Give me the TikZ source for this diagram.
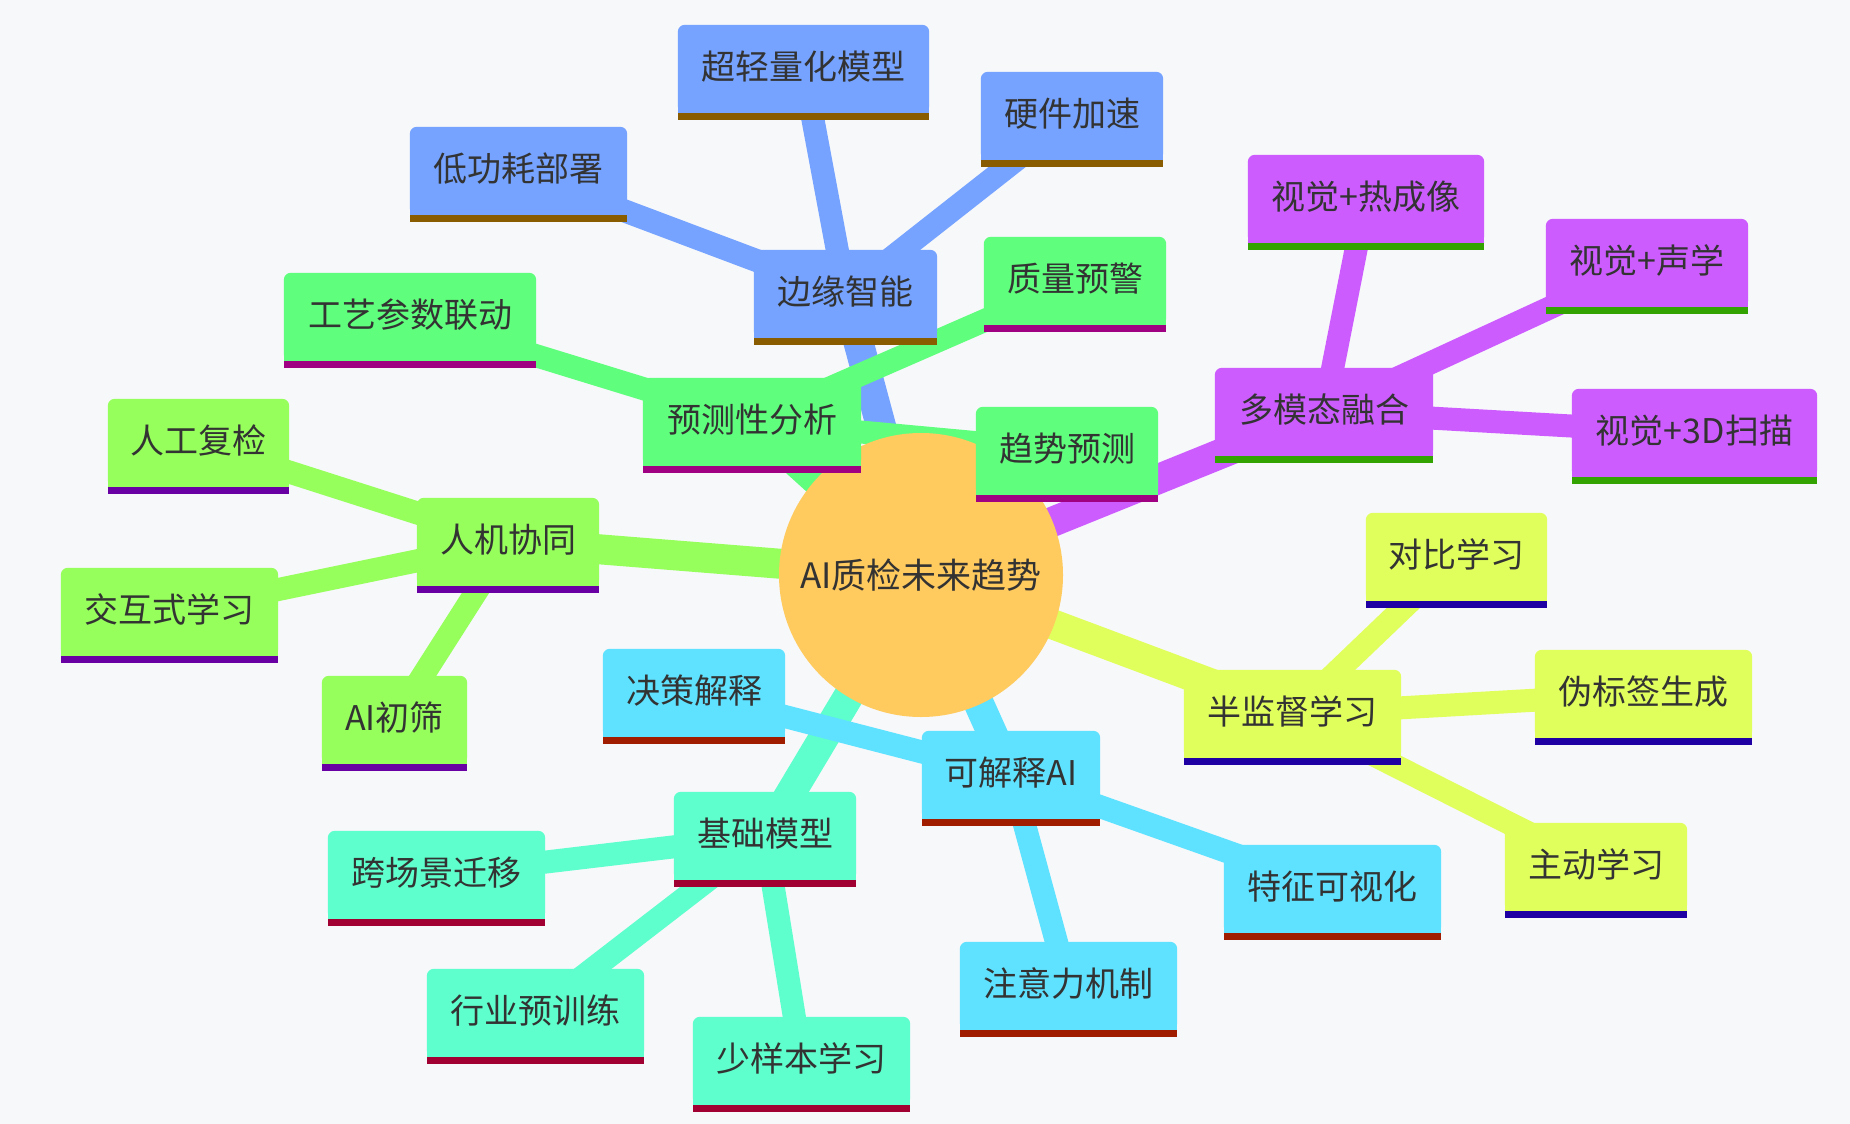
\documentclass[tikz,border=0pt]{standalone}
\usepackage{fontspec}
\newfontfamily\cjk{Noto Sans CJK SC}
\pgfdeclarelayer{bglayer}
\pgfdeclarelayer{edgelayer}
\pgfdeclarelayer{rootlayer}
\pgfdeclarelayer{boxlayer}
\pgfsetlayers{bglayer,edgelayer,rootlayer,boxlayer,main}
\definecolor{bgc}{HTML}{F7F8FA}
\definecolor{txtc}{HTML}{333333}
\definecolor{rootc}{HTML}{FFCA5E}
\definecolor{cBlue}{HTML}{75A3FF}
\definecolor{sBlue}{HTML}{8A5C00}
\definecolor{cGreen}{HTML}{5FFF7D}
\definecolor{sGreen}{HTML}{A00082}
\definecolor{cPurple}{HTML}{CD5CFF}
\definecolor{sPurple}{HTML}{32A300}
\definecolor{cYellow}{HTML}{E1FF5C}
\definecolor{sYellow}{HTML}{1E00A3}
\definecolor{cCyan}{HTML}{5EE2FF}
\definecolor{sCyan}{HTML}{A11D00}
\definecolor{cAqua}{HTML}{5EFFCC}
\definecolor{sAqua}{HTML}{A10033}
\definecolor{cLime}{HTML}{96FF5C}
\definecolor{sLime}{HTML}{6900A3}
\tikzset{
  mmbox/.style={rectangle, inner sep=0pt, minimum height=88pt, text height=30pt, text depth=10pt, text=txtc, font=\cjk\fontsize{34}{40}\selectfont},
  rootnode/.style={circle, inner sep=0pt, minimum size=284pt, text=txtc, font=\cjk\fontsize{35}{42}\selectfont},
  mainedge/.style={line width=30pt},
  subedge/.style={line width=23pt},
}
\begin{document}
\begin{tikzpicture}[x=1pt,y=-1pt]
\begin{pgfonlayer}{bglayer}
\fill[bgc] (0,0) rectangle (1850,1124);
\end{pgfonlayer}
\useasboundingbox (0,0) rectangle (1850,1124);

\node[rootnode] (root) at (921,575) {AI质检未来趋势};

% blue section
\node[mmbox, minimum width=183pt] (edge) at (845.5,294) {边缘智能};
\node[mmbox, minimum width=251pt] (lite) at (803.5,69) {超轻量化模型};
\node[mmbox, minimum width=182pt] (hw) at (1072,116) {硬件加速};
\node[mmbox, minimum width=217pt] (lowp) at (518.5,171) {低功耗部署};
% green section
\node[mmbox, minimum width=218pt] (pred) at (752,422) {预测性分析};
\node[mmbox, minimum width=252pt] (proc) at (410,317) {工艺参数联动};
\node[mmbox, minimum width=182pt] (warn) at (1075,281) {质量预警};
\node[mmbox, minimum width=182pt] (trend) at (1067,451) {趋势预测};
% purple section
\node[mmbox, minimum width=218pt] (multi) at (1324,412) {多模态融合};
\node[mmbox, minimum width=236pt] (therm) at (1366,199) {视觉+热成像};
\node[mmbox, minimum width=202pt] (acou) at (1647,263) {视觉+声学};
\node[mmbox, minimum width=245pt] (scan) at (1694.5,433) {视觉+3D扫描};
% yellow section
\node[mmbox, minimum width=217pt] (semi) at (1292.5,714) {半监督学习};
\node[mmbox, minimum width=181pt] (contr) at (1456.5,557) {对比学习};
\node[mmbox, minimum width=217pt] (pseudo) at (1643.5,694) {伪标签生成};
\node[mmbox, minimum width=182pt] (active) at (1596,867) {主动学习};
% cyan section
\node[mmbox, minimum width=178pt] (xai) at (1011,775) {可解释AI};
\node[mmbox, minimum width=182pt] (decis) at (694,693) {决策解释};
\node[mmbox, minimum width=217pt] (featv) at (1332.5,889) {特征可视化};
\node[mmbox, minimum width=217pt] (attn) at (1068.5,986) {注意力机制};
% aqua section
\node[mmbox, minimum width=182pt] (found) at (765,836) {基础模型};
\node[mmbox, minimum width=217pt] (cross) at (436.5,875) {跨场景迁移};
\node[mmbox, minimum width=217pt] (indus) at (535.5,1013) {行业预训练};
\node[mmbox, minimum width=217pt] (fewshot) at (801.5,1061) {少样本学习};
% lime section
\node[mmbox, minimum width=182pt] (hmc) at (508,542) {人机协同};
\node[mmbox, minimum width=181pt] (manual) at (198.5,443) {人工复检};
\node[mmbox, minimum width=217pt] (inter) at (169.5,612) {交互式学习};
\node[mmbox, minimum width=145pt] (aiscr) at (394.5,720) {AI初筛};

\begin{pgfonlayer}{rootlayer}
\fill[rootc] (root.center) circle[radius=142pt];
\end{pgfonlayer}

\begin{pgfonlayer}{boxlayer}
\foreach \n/\f/\s in {edge/cBlue/sBlue, lite/cBlue/sBlue, hw/cBlue/sBlue, lowp/cBlue/sBlue,
  pred/cGreen/sGreen, proc/cGreen/sGreen, warn/cGreen/sGreen, trend/cGreen/sGreen,
  multi/cPurple/sPurple, therm/cPurple/sPurple, acou/cPurple/sPurple, scan/cPurple/sPurple,
  semi/cYellow/sYellow, contr/cYellow/sYellow, pseudo/cYellow/sYellow, active/cYellow/sYellow,
  xai/cCyan/sCyan, decis/cCyan/sCyan, featv/cCyan/sCyan, attn/cCyan/sCyan,
  found/cAqua/sAqua, cross/cAqua/sAqua, indus/cAqua/sAqua, fewshot/cAqua/sAqua,
  hmc/cLime/sLime, manual/cLime/sLime, inter/cLime/sLime, aiscr/cLime/sLime}{
  \fill[\f, rounded corners=7pt] (\n.south west) rectangle (\n.north east);
  \fill[\f] (\n.south west) rectangle (\n.east);
  \fill[\s] (\n.south west) rectangle ([yshift=-7pt]\n.south east);
}
\end{pgfonlayer}

\begin{pgfonlayer}{edgelayer}
\foreach \n/\c in {edge/cBlue, pred/cGreen, multi/cPurple, semi/cYellow, xai/cCyan, found/cAqua, hmc/cLime}
  \draw[mainedge, \c] (root.center) -- (\n.center);
\foreach \p/\n/\c in {edge/lite/cBlue, edge/hw/cBlue, edge/lowp/cBlue,
  pred/proc/cGreen, pred/warn/cGreen, pred/trend/cGreen,
  multi/therm/cPurple, multi/acou/cPurple, multi/scan/cPurple,
  semi/contr/cYellow, semi/pseudo/cYellow, semi/active/cYellow,
  xai/decis/cCyan, xai/featv/cCyan, xai/attn/cCyan,
  found/cross/cAqua, found/indus/cAqua, found/fewshot/cAqua,
  hmc/manual/cLime, hmc/inter/cLime, hmc/aiscr/cLime}
  \draw[subedge, \c] (\p.center) -- (\n.center);
\end{pgfonlayer}
\end{tikzpicture}
\end{document}
